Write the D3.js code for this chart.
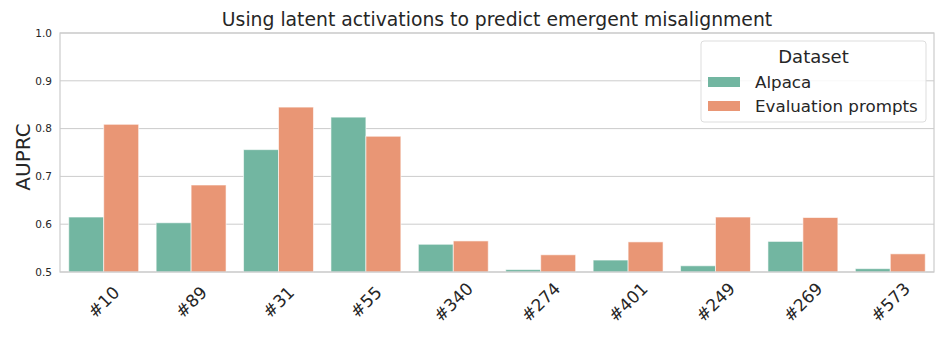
<!DOCTYPE html>
<html>
<head>
<meta charset="utf-8">
<script src="https://cdn.jsdelivr.net/npm/d3@7"></script>
<style>
  body { margin: 0; background: #fff; }
  text { font-family: "DejaVu Sans", sans-serif; fill: #262626; }
</style>
</head>
<body>
<script>
// chart data
var features = ["#10", "#89", "#31", "#55", "#340", "#274", "#401", "#249", "#269", "#573"];
var datasets = ["Alpaca", "Evaluation prompts"];
var alpaca = [0.615, 0.603, 0.756, 0.824, 0.558, 0.505, 0.525, 0.513, 0.564, 0.507];
var evalPrompts = [0.809, 0.682, 0.845, 0.784, 0.565, 0.536, 0.563, 0.615, 0.614, 0.538];
var yTicks = [0.5, 0.6, 0.7, 0.8, 0.9, 1.0];
var colors = ["#72b6a1", "#e99675"];

var width = 947,
    height = 338;
var margin = {top: 33, right: 13, bottom: 66, left: 60};
var plotW = width - margin.left - margin.right,
    plotH = height - margin.top - margin.bottom;

var svg = d3.select("body").append("svg")
    .attr("width", width)
    .attr("height", height);

var g = svg.append("g")
    .attr("transform", "translate(" + margin.left + "," + margin.top + ")");

var x = d3.scaleBand()
    .domain(features)
    .range([0, plotW])
    .paddingInner(0.2)
    .paddingOuter(0.1);

var x1 = d3.scaleBand()
    .domain(datasets)
    .range([0, x.bandwidth()]);

var y = d3.scaleLinear()
    .domain([0.5, 1.0])
    .range([plotH, 0]);

// grid
g.selectAll(".grid")
    .data(yTicks)
  .enter().append("line")
    .attr("x1", 0)
    .attr("x2", plotW)
    .attr("y1", function(d){ return y(d); })
    .attr("y2", function(d){ return y(d); })
    .attr("stroke", "#cccccc")
    .attr("stroke-width", 1);

// bars
var rows = features.map(function(f, i){
    return {feature: f, values: [alpaca[i], evalPrompts[i]]};
});

var groups = g.selectAll(".grp")
    .data(rows)
  .enter().append("g")
    .attr("transform", function(d){ return "translate(" + x(d.feature) + ",0)"; });

groups.selectAll("rect")
    .data(function(d){ return d.values.map(function(v, j){ return {key: datasets[j], value: v, j: j}; }); })
  .enter().append("rect")
    .attr("x", function(d){ return x1(d.key); })
    .attr("width", x1.bandwidth())
    .attr("y", function(d){ return y(d.value); })
    .attr("height", function(d){ return plotH - y(d.value); })
    .attr("fill", function(d){ return colors[d.j]; })
    .attr("stroke", "#ffffff")
    .attr("stroke-opacity", 0.6)
    .attr("stroke-width", 1);

// frame
g.append("rect")
    .attr("x", 0).attr("y", 0)
    .attr("width", plotW).attr("height", plotH)
    .attr("fill", "none")
    .attr("stroke", "#cccccc")
    .attr("stroke-width", 1.2);

// y axis
var yAxis = g.append("g")
    .call(d3.axisLeft(y).tickValues(yTicks).tickFormat(d3.format(".1f")).tickSize(0).tickPadding(8));
yAxis.select(".domain").remove();
yAxis.selectAll("text")
    .style("font-size", "10.5px")
    .style("font-family", "DejaVu Sans");

// x axis
var xAxis = g.append("g")
    .attr("transform", "translate(0," + plotH + ")")
    .call(d3.axisBottom(x).tickSize(0).tickPadding(0));
xAxis.select(".domain").remove();
xAxis.selectAll("text")
    .attr("y", 0)
    .attr("dy", 0)
    .attr("text-anchor", "middle")
    .attr("dominant-baseline", "central")
    .attr("transform", "translate(0,30) rotate(-45)")
    .style("font-size", "17px")
    .style("font-family", "DejaVu Sans");

// title
svg.append("text")
    .attr("x", margin.left + plotW / 2)
    .attr("y", 26)
    .attr("text-anchor", "middle")
    .style("font-size", "18.8px")
    .text("Using latent activations to predict emergent misalignment");

// y label
svg.append("text")
    .attr("transform", "translate(30,157) rotate(-90)")
    .attr("text-anchor", "middle")
    .style("font-size", "20px")
    .text("AUPRC");

// legend
var leg = svg.append("g").attr("transform", "translate(701,41)");
leg.append("rect")
    .attr("width", 225).attr("height", 81)
    .attr("rx", 3)
    .attr("fill", "#ffffff")
    .attr("fill-opacity", 0.85)
    .attr("stroke", "#dddddd");
leg.append("text")
    .attr("x", 112.5).attr("y", 22)
    .attr("text-anchor", "middle")
    .style("font-size", "18px")
    .text("Dataset");
datasets.forEach(function(d, i){
    leg.append("rect")
        .attr("x", 7).attr("y", 36 + i * 24)
        .attr("width", 32).attr("height", 10)
        .attr("fill", colors[i]);
    leg.append("text")
        .attr("x", 54).attr("y", 47 + i * 24)
        .style("font-size", "16.7px")
        .text(d);
});
</script>
</body>
</html>
